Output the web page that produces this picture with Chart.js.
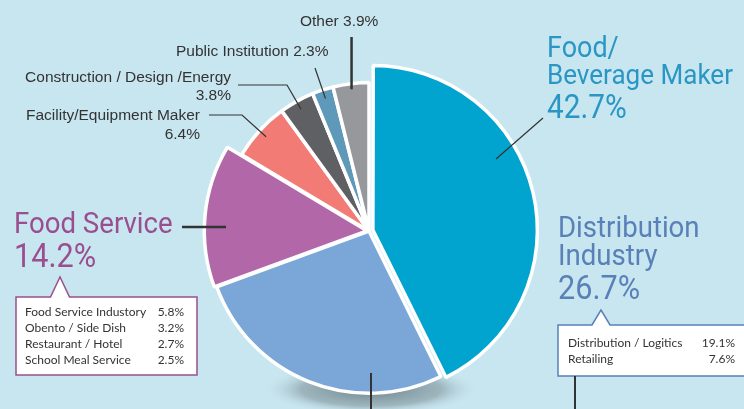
<!DOCTYPE html>
<html>
<head>
<meta charset="utf-8">
<script src="https://cdn.jsdelivr.net/npm/chart.js@4.4.1/dist/chart.umd.min.js"></script>
<style>
  html, body { margin: 0; padding: 0; background: #c8e6f0; overflow: hidden; }
  canvas { display: block; }
</style>
</head>
<body>
<canvas id="sectorChart" width="744" height="409"></canvas>
<script>
// sectors, clockwise from 12 o'clock
const sectors = ['Food/Beverage Maker', 'Distribution Industry', 'Food Service',
  'Facility/Equipment Maker', 'Construction / Design / Energy', 'Public Institution', 'Other'];
const shares = [42.7, 26.7, 14.2, 6.4, 3.8, 2.3, 3.9];
const sectorColors = ['#00a4cf', '#7ba7d8', '#b267a8', '#f27b75', '#5f6064', '#5e99ba', '#97989c'];
// the three big sectors are drawn at full radius, the rest a bit smaller
const mainSectors = ['Food/Beverage Maker', 'Distribution Industry', 'Food Service'];

const foodServiceLabels = ['Food Service Industory', 'Obento / Side Dish', 'Restaurant / Hotel', 'School Meal Service'];
const foodServiceShares = [5.8, 3.2, 2.7, 2.5];
const distributionLabels = ['Distribution / Logitics', 'Retailing'];
const distributionShares = [19.1, 7.6];

const pct = v => v.toFixed(1) + '%';
const TEXT = '#333333';
const BIG = 'Roboto, "Liberation Sans", sans-serif';

function txt(ctx, s, x, y, font, color, align, sx) {
  ctx.save();
  ctx.font = font;
  ctx.fillStyle = color;
  ctx.textAlign = align || 'left';
  ctx.textBaseline = 'alphabetic';
  ctx.translate(x, y);
  ctx.scale(sx || 1, 1);
  ctx.fillText(s, 0, 0);
  ctx.restore();
}

function line(ctx, pts, width) {
  ctx.save();
  ctx.strokeStyle = TEXT;
  ctx.lineWidth = width;
  ctx.beginPath();
  pts.forEach((p, i) => i ? ctx.lineTo(p[0], p[1]) : ctx.moveTo(p[0], p[1]));
  ctx.stroke();
  ctx.restore();
}

// point on the middle of a slice at radius r
function mid(arc, r) {
  const a = (arc.startAngle + arc.endAngle) / 2;
  return [arc.x + Math.cos(a) * r, arc.y + Math.sin(a) * r];
}

function callout(ctx, x0, y0, x1, y1, tipX, tipY, half, color) {
  ctx.save();
  ctx.beginPath();
  ctx.moveTo(x0, y0);
  ctx.lineTo(tipX - half, y0);
  ctx.lineTo(tipX, tipY);
  ctx.lineTo(tipX + half, y0);
  ctx.lineTo(x1, y0);
  ctx.lineTo(x1, y1);
  ctx.lineTo(x0, y1);
  ctx.closePath();
  ctx.fillStyle = '#ffffff';
  ctx.fill();
  ctx.strokeStyle = color;
  ctx.lineWidth = 1.5;
  ctx.stroke();
  ctx.restore();
}

const smallerSlices = {
  id: 'smallerSlices',
  afterDatasetsUpdate(chart) {
    chart.getDatasetMeta(0).data.forEach((arc, i) => {
      if (!mainSectors.includes(sectors[i])) arc.outerRadius *= 0.915;
    });
  }
};

const backdrop = {
  id: 'backdrop',
  beforeDatasetsDraw(chart) {
    const ctx = chart.ctx;
    ctx.save();
    ctx.fillStyle = '#c8e6f0';
    ctx.fillRect(0, 0, chart.width, chart.height);
    // soft shadow under the pie
    const arc = chart.getDatasetMeta(0).data[1];
    ctx.translate(arc.x + 2, arc.y + arc.outerRadius - 4);
    ctx.scale(1, 0.24);
    const g = ctx.createRadialGradient(0, 0, 0, 0, 0, 108);
    g.addColorStop(0, 'rgba(100,120,128,0.9)');
    g.addColorStop(0.65, 'rgba(135,155,163,0.65)');
    g.addColorStop(1, 'rgba(200,230,240,0)');
    ctx.fillStyle = g;
    ctx.beginPath();
    ctx.arc(0, 0, 108, 0, Math.PI * 2);
    ctx.fill();
    ctx.restore();
  }
};

const labels = {
  id: 'labels',
  afterDatasetsDraw(chart) {
    const ctx = chart.ctx;
    const arcs = chart.getDatasetMeta(0).data;
    const R = arcs[0].outerRadius;
    const small = '15.5px "Liberation Sans", Arial, sans-serif';

    // Food / Beverage
    const cFood = '#2a96c4';
    txt(ctx, 'Food/', 547, 57, '29px ' + BIG, cFood, 'left', 0.93);
    txt(ctx, 'Beverage Maker', 547, 84, '28px ' + BIG, cFood, 'left', 0.93);
    txt(ctx, pct(shares[0]), 547, 118, '33px ' + BIG, cFood, 'left', 0.9);
    line(ctx, [[543, 118], [496, 159]], 1.2);

    // Distribution
    const cDist = '#5a80b8';
    txt(ctx, 'Distribution', 558, 237, '30px ' + BIG, cDist, 'left', 0.92);
    txt(ctx, 'Industry', 558, 265, '30px ' + BIG, cDist, 'left', 0.92);
    txt(ctx, pct(shares[1]), 558, 299, '34px ' + BIG, cDist, 'left', 0.9);
    callout(ctx, 558, 325, 746, 376, 601, 310, 9, cDist);
    distributionLabels.forEach((l, i) => {
      txt(ctx, l, 568, 347 + i * 16, '12px Lato, sans-serif', TEXT, 'left');
      txt(ctx, pct(distributionShares[i]), 735, 347 + i * 16, '12px Lato, sans-serif', TEXT, 'right');
    });
    line(ctx, [[575, 376], [575, 409]], 2);
    line(ctx, [[arcs[1].x + 2, 373], [arcs[1].x + 2, 409]], 2);

    // Food Service
    const cServ = '#9a4e90';
    txt(ctx, 'Food Service', 14, 233, '30px ' + BIG, cServ, 'left', 0.92);
    txt(ctx, pct(shares[2]), 14, 267, '34px ' + BIG, cServ, 'left', 0.9);
    callout(ctx, 16, 297, 197, 375, 60, 277, 9.5, cServ);
    foodServiceLabels.forEach((l, i) => {
      txt(ctx, l, 25, 316 + i * 16, '12px Lato, sans-serif', TEXT, 'left');
      txt(ctx, pct(foodServiceShares[i]), 184, 316 + i * 16, '12px Lato, sans-serif', TEXT, 'right');
    });
    line(ctx, [[182, 227], [226, 227]], 2.5);

    // small sectors
    txt(ctx, 'Facility/Equipment Maker', 200, 120, small, TEXT, 'right');
    txt(ctx, pct(shares[3]), 200, 139, small, TEXT, 'right');
    line(ctx, [[209, 115], [242, 115], mid(arcs[3], R * 0.86)], 1.2);

    txt(ctx, 'Construction / Design /Energy', 231, 82, small, TEXT, 'right');
    txt(ctx, pct(shares[4]), 231, 100, small, TEXT, 'right');
    line(ctx, [[238, 85], [287, 85], mid(arcs[4], R * 0.86)], 1.2);

    txt(ctx, 'Public Institution ' + pct(shares[5]), 176, 56, small, TEXT, 'left');
    line(ctx, [[315, 68], mid(arcs[5], R * 0.86)], 1.2);

    txt(ctx, 'Other ' + pct(shares[6]), 300, 26, small, TEXT, 'left');
    const o = mid(arcs[6], R * 0.88);
    line(ctx, [[o[0], 37], o], 2.5);
  }
};

new Chart(document.getElementById('sectorChart'), {
  type: 'pie',
  data: {
    labels: sectors,
    datasets: [{
      data: shares,
      backgroundColor: sectorColors,
      borderColor: '#ffffff',
      borderWidth: 3.5,
      hoverOffset: 0,
      offset: ctx => ctx.dataIndex === 0 ? 16 : (ctx.dataIndex === 2 ? 8 : 0)
    }]
  },
  options: {
    responsive: false,
    animation: false,
    events: [],
    layout: { padding: { left: 197, right: 203, top: 59, bottom: 6 } },
    plugins: {
      legend: { display: false },
      tooltip: { enabled: false }
    }
  },
  plugins: [backdrop, smallerSlices, labels]
});
</script>
</body>
</html>
